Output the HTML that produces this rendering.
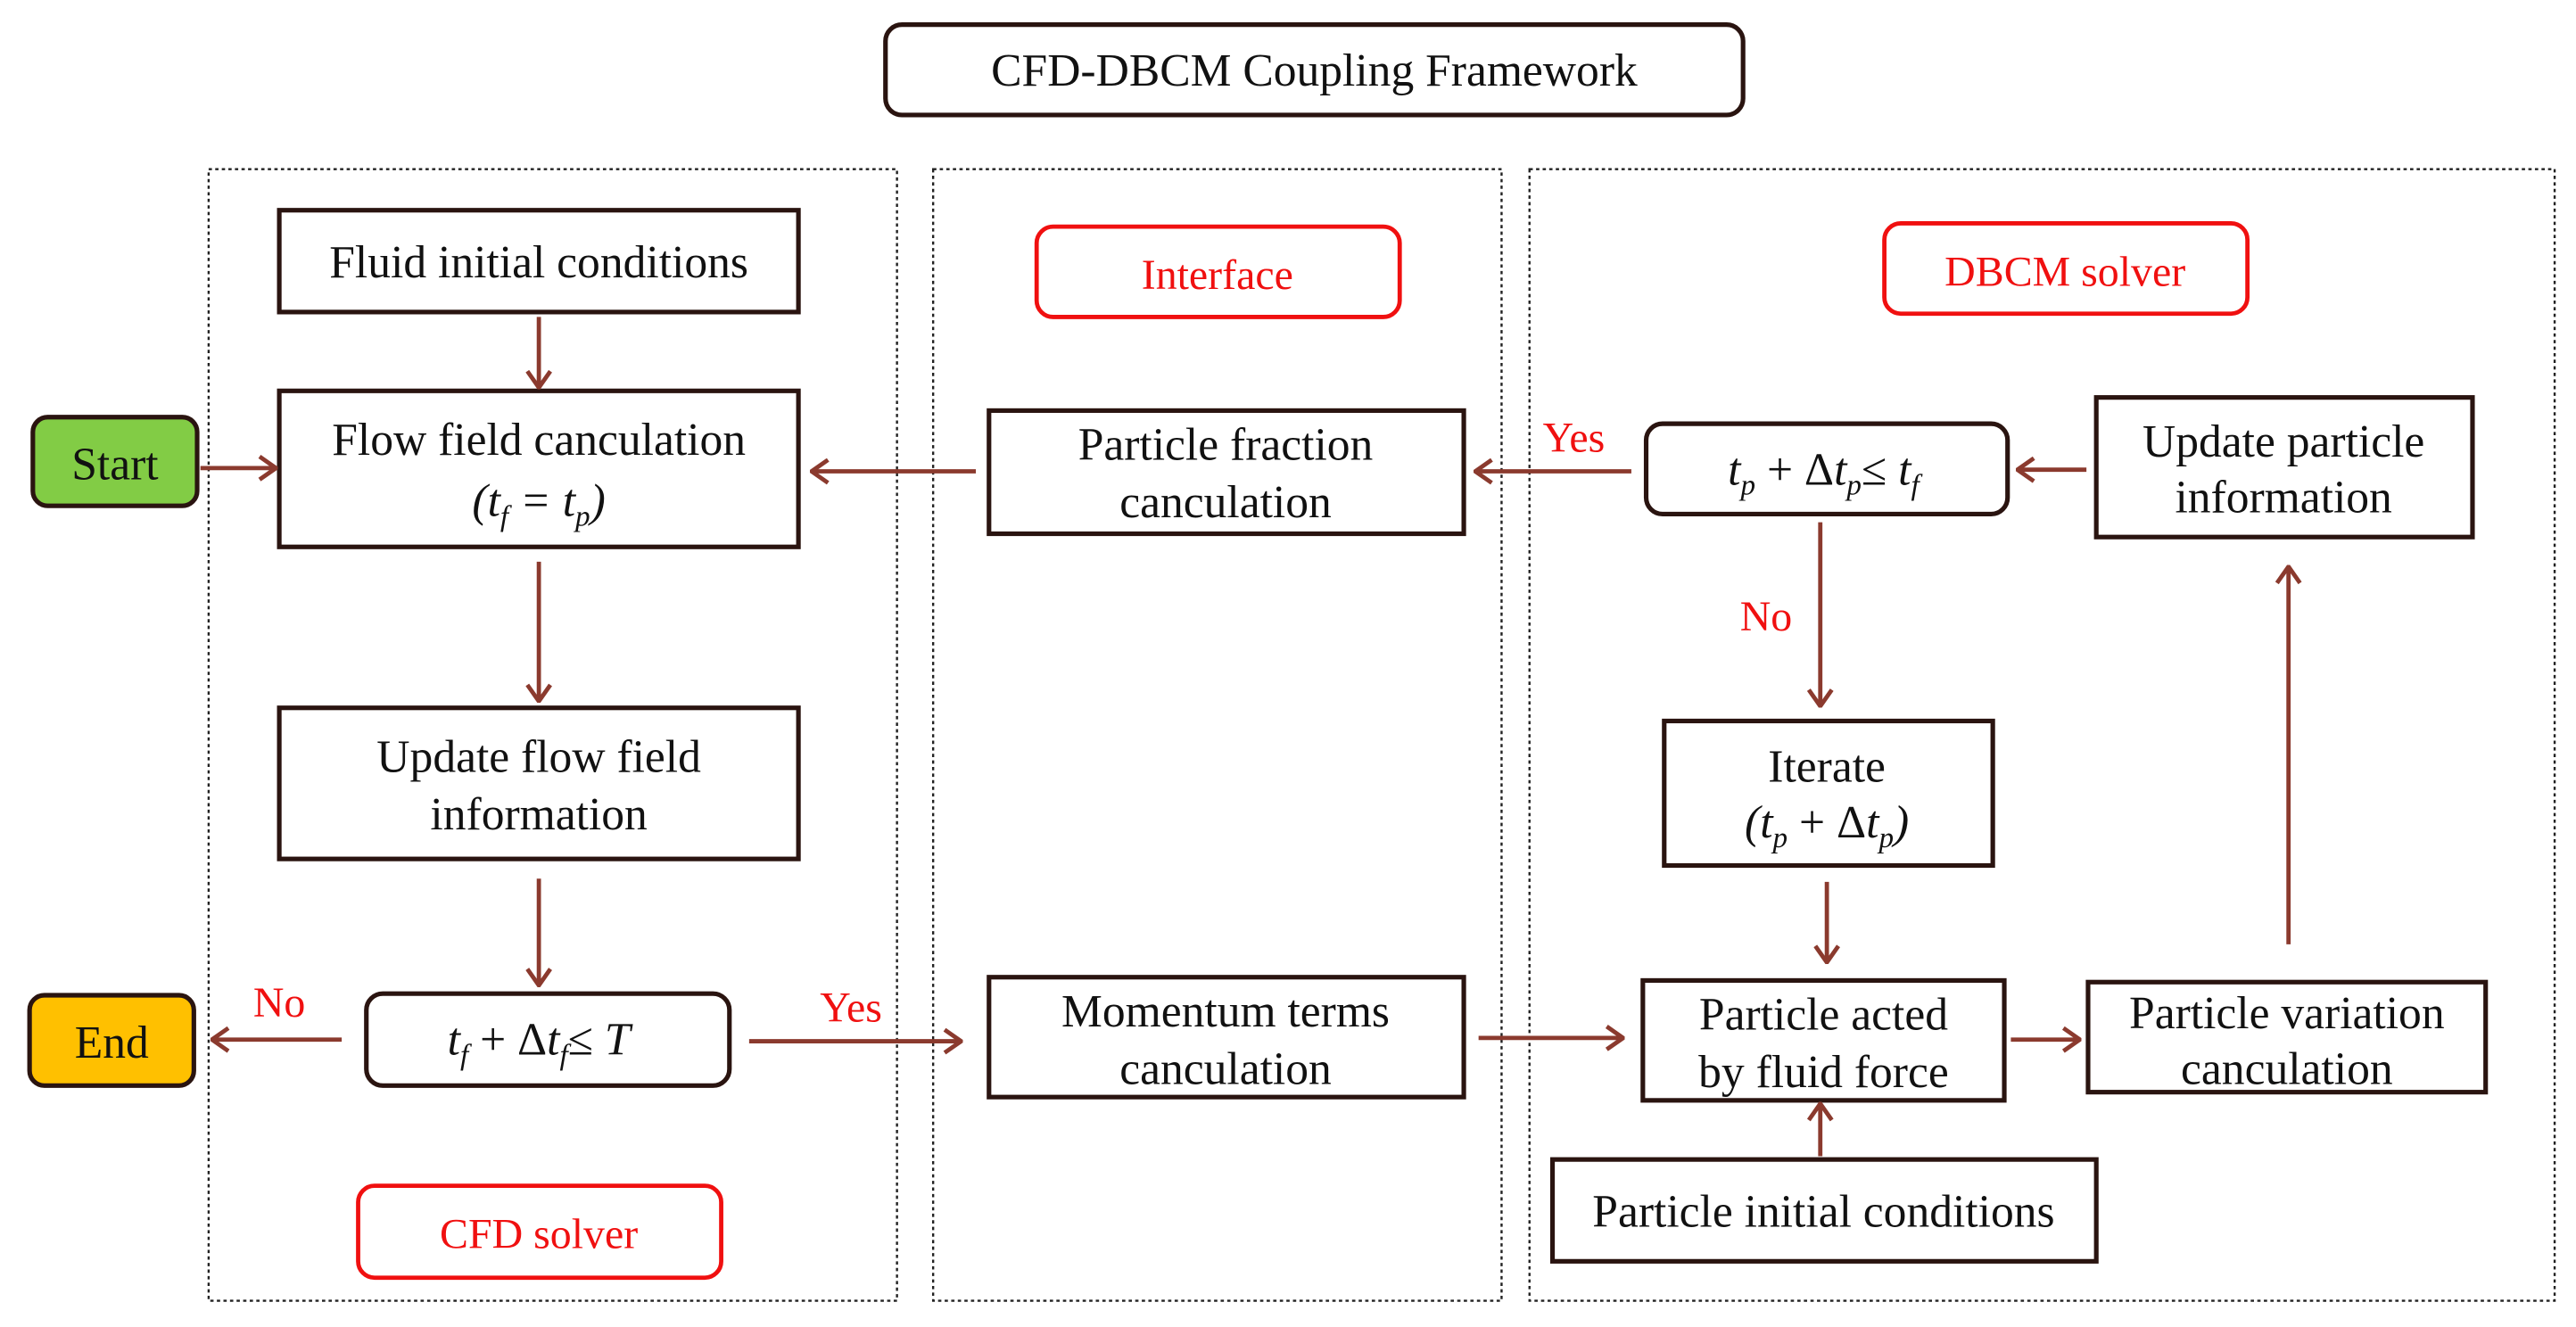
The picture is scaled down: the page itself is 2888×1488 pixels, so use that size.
<!DOCTYPE html>
<html><head><meta charset="utf-8"><style>
html,body{margin:0;padding:0;background:#fff;}
svg{display:block;}
text{font-family:"Liberation Serif",serif;}
</style></head><body>
<svg width="2888" height="1488" viewBox="0 0 1568 808" preserveAspectRatio="none" xmlns="http://www.w3.org/2000/svg">
<defs>
<marker id="a" viewBox="0 0 12 16" refX="11" refY="8" markerWidth="12" markerHeight="16" markerUnits="userSpaceOnUse" orient="auto">
<path d="M1,1 L11,8 L1,15" fill="none" stroke="#8B3A2E" stroke-width="2.6"/>
</marker>
</defs>
<g fill="none" stroke="#222" stroke-width="1.3" stroke-dasharray="2,2">
<rect x="127" y="103" width="419" height="689"/>
<rect x="568" y="103" width="346" height="689"/>
<rect x="931" y="103" width="624" height="689"/>
</g>
<g fill="#fff" stroke="#2a1410" stroke-width="2.8">
<rect x="539" y="15" width="522" height="55" rx="10"/>
<rect x="170" y="128" width="316" height="62"/>
<rect x="170" y="238" width="316" height="95"/>
<rect x="170" y="431" width="316" height="92"/>
<rect x="223" y="605" width="221" height="56" rx="10"/>
<rect x="602" y="250" width="289" height="75"/>
<rect x="602" y="595" width="289" height="73"/>
<rect x="1002" y="258" width="220" height="55" rx="10"/>
<rect x="1276" y="242" width="229" height="85"/>
<rect x="1013" y="439" width="200" height="88"/>
<rect x="1000" y="597" width="220" height="73"/>
<rect x="1271" y="598" width="242" height="67"/>
<rect x="945" y="706" width="331" height="62"/>
<rect x="20" y="254" width="100" height="54" rx="9" fill="#82CC45"/>
<rect x="18" y="606" width="100" height="55" rx="9" fill="#FFC000"/>
</g>
<g fill="#fff" stroke="#f01010" stroke-width="2.6">
<rect x="218" y="722" width="221" height="56" rx="10"/>
<rect x="631" y="138" width="221" height="55" rx="10"/>
<rect x="1147" y="136" width="221" height="55" rx="10"/>
</g>
<g stroke="#8B3A2E" stroke-width="2.6" marker-end="url(#a)">
<line x1="328" y1="193" x2="328" y2="236"/>
<line x1="122" y1="285" x2="168" y2="285"/>
<line x1="594" y1="287" x2="494" y2="287"/>
<line x1="328" y1="342" x2="328" y2="427"/>
<line x1="328" y1="535" x2="328" y2="600"/>
<line x1="208" y1="633" x2="129" y2="633"/>
<line x1="456" y1="634" x2="585" y2="634"/>
<line x1="900" y1="632" x2="988" y2="632"/>
<line x1="1224" y1="633" x2="1266" y2="633"/>
<line x1="1393" y1="575" x2="1393" y2="345"/>
<line x1="1270" y1="286" x2="1228" y2="286"/>
<line x1="993" y1="287" x2="898" y2="287"/>
<line x1="1108" y1="318" x2="1108" y2="430"/>
<line x1="1112" y1="537" x2="1112" y2="586"/>
<line x1="1108" y1="704" x2="1108" y2="672"/>
</g>
<g font-size="28" fill="#111" text-anchor="middle">
<text x="800" y="52">CFD-DBCM Coupling Framework</text>
<text x="328" y="169">Fluid initial  conditions</text>
<text x="328" y="277">Flow field canculation</text>
<text x="328" y="314" font-style="italic">(t<tspan font-size="18" dy="6">f</tspan><tspan dy="-6"> = t</tspan><tspan font-size="18" dy="6">p</tspan><tspan dy="-6">)</tspan></text>
<text x="328" y="470">Update flow field</text>
<text x="328" y="505">information</text>
<text x="328" y="642" font-style="italic">t<tspan font-size="18" dy="6">f</tspan><tspan dy="-6" font-style="normal"> + Δ</tspan><tspan dy="0">t</tspan><tspan font-size="18" dy="6">f</tspan><tspan dy="-6" font-style="normal">≤ </tspan><tspan>T</tspan></text>
<text x="746" y="280">Particle fraction</text>
<text x="746" y="315">canculation</text>
<text x="746" y="625">Momentum terms</text>
<text x="746" y="660">canculation</text>
<text x="1110" y="295" font-style="italic">t<tspan font-size="18" dy="6">p</tspan><tspan dy="-6" font-style="normal"> + Δ</tspan><tspan>t</tspan><tspan font-size="18" dy="6">p</tspan><tspan dy="-6" font-style="normal">≤ </tspan><tspan>t</tspan><tspan font-size="18" dy="6">f</tspan></text>
<text x="1390" y="278">Update particle</text>
<text x="1390" y="312">information</text>
<text x="1112" y="476">Iterate</text>
<text x="1112" y="510" font-style="italic">(t<tspan font-size="18" dy="6">p</tspan><tspan dy="-6" font-style="normal"> + Δ</tspan><tspan>t</tspan><tspan font-size="18" dy="6">p</tspan><tspan dy="-6">)</tspan></text>
<text x="1110" y="627">Particle acted</text>
<text x="1110" y="662">by fluid force</text>
<text x="1392" y="626">Particle variation</text>
<text x="1392" y="660">canculation</text>
<text x="1110" y="747">Particle initial  conditions</text>
<text x="70" y="292">Start</text>
<text x="68" y="644">End</text>
</g>
<g font-size="26" fill="#f01010" text-anchor="middle">
<text x="328" y="760">CFD solver</text>
<text x="741" y="176">Interface</text>
<text x="1257" y="174">DBCM solver</text>
<text x="170" y="619">No</text>
<text x="518" y="622">Yes</text>
<text x="958" y="275">Yes</text>
<text x="1075" y="384">No</text>
</g>
</svg>
</body></html>
